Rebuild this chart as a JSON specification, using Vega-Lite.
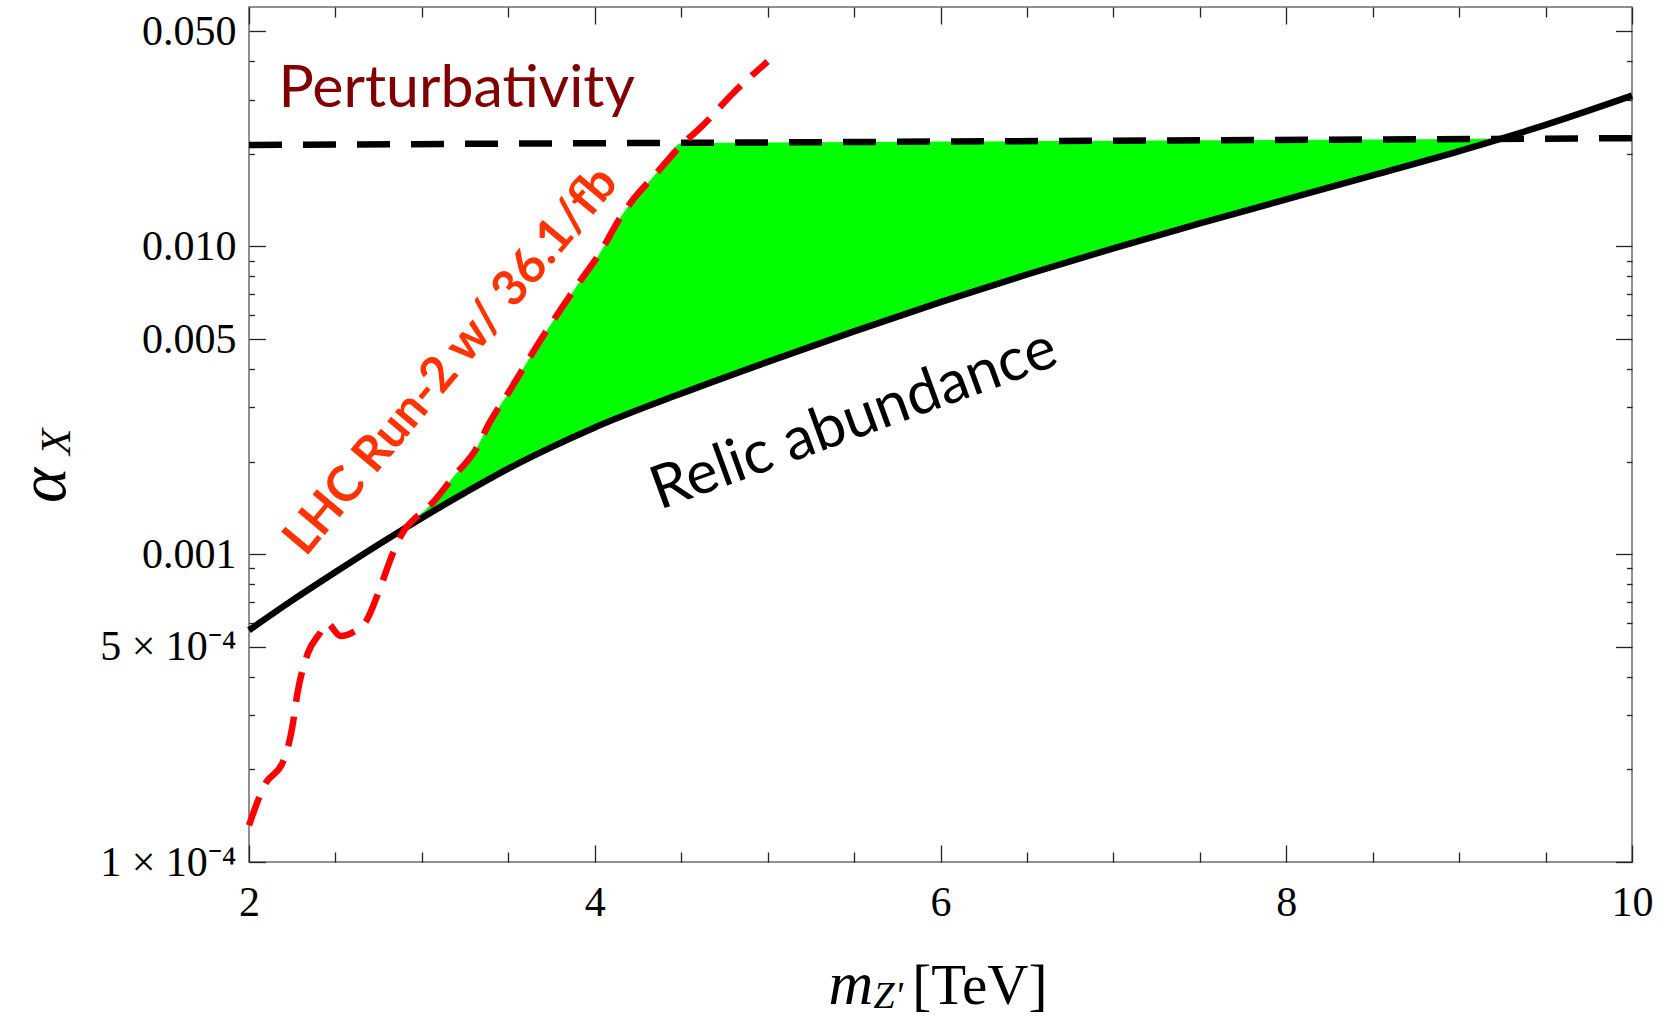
{
  "$schema": "https://vega.github.io/schema/vega-lite/v6.json",
  "width": 1383,
  "height": 855,
  "autosize": {"type": "none"},
  "padding": {"left": 249, "top": 7, "right": 37, "bottom": 155},
  "background": "white",
  "config": {
    "view": {"stroke": "#6b6b6b", "strokeWidth": 1.5},
    "axis": {"grid": false, "domain": false, "tickColor": "#222222", "tickWidth": 1.3, "labelColor": "black", "labelFont": "Liberation Serif", "labelFontSize": 42, "labelFlush": false, "labelOverlap": false, "labelBound": false}
  },
  "datasets": {
    "band": [
      {"m": 2.95, "lo": 0.001262, "hi": 0.001291},
      {"m": 3.06, "lo": 0.001372, "hi": 0.001466},
      {"m": 3.18, "lo": 0.001506, "hi": 0.001778},
      {"m": 3.32, "lo": 0.001668, "hi": 0.002228},
      {"m": 3.39, "lo": 0.001754, "hi": 0.002667},
      {"m": 3.5, "lo": 0.001897, "hi": 0.003342},
      {"m": 3.57, "lo": 0.001982, "hi": 0.003882},
      {"m": 3.64, "lo": 0.002071, "hi": 0.004508},
      {"m": 3.8, "lo": 0.002293, "hi": 0.006209},
      {"m": 3.92, "lo": 0.002464, "hi": 0.00778},
      {"m": 4.03, "lo": 0.002622, "hi": 0.009528},
      {"m": 4.15, "lo": 0.00278, "hi": 0.01247},
      {"m": 4.22, "lo": 0.002877, "hi": 0.01416},
      {"m": 4.34, "lo": 0.003056, "hi": 0.01687},
      {"m": 4.51, "lo": 0.003343, "hi": 0.02172},
      {"m": 5.0, "lo": 0.004217, "hi": 0.02179},
      {"m": 5.5, "lo": 0.005297, "hi": 0.02186},
      {"m": 6.0, "lo": 0.006592, "hi": 0.02193},
      {"m": 6.5, "lo": 0.00811, "hi": 0.022},
      {"m": 7.0, "lo": 0.009863, "hi": 0.02207},
      {"m": 7.5, "lo": 0.01189, "hi": 0.02214},
      {"m": 8.0, "lo": 0.01422, "hi": 0.02221},
      {"m": 8.5, "lo": 0.01702, "hi": 0.02227},
      {"m": 9.0, "lo": 0.02042, "hi": 0.02234},
      {"m": 9.23, "lo": 0.02234, "hi": 0.02237}
    ],
    "relic": [
      {"m": 2.0, "a": 0.0005662},
      {"m": 2.25, "a": 0.0007079},
      {"m": 2.5, "a": 0.000875},
      {"m": 2.75, "a": 0.001076},
      {"m": 3.0, "a": 0.001312},
      {"m": 3.25, "a": 0.001585},
      {"m": 3.5, "a": 0.001897},
      {"m": 3.75, "a": 0.002228},
      {"m": 4.0, "a": 0.002582},
      {"m": 4.5, "a": 0.003327},
      {"m": 5.0, "a": 0.004217},
      {"m": 5.5, "a": 0.005297},
      {"m": 6.0, "a": 0.006592},
      {"m": 6.5, "a": 0.00811},
      {"m": 7.0, "a": 0.009863},
      {"m": 7.5, "a": 0.01189},
      {"m": 8.0, "a": 0.01422},
      {"m": 8.5, "a": 0.01702},
      {"m": 9.0, "a": 0.02042},
      {"m": 9.5, "a": 0.02483},
      {"m": 10.0, "a": 0.0309}
    ],
    "pert": [
      {"m": 2.0, "a": 0.02138},
      {"m": 10.0, "a": 0.02248}
    ],
    "lhc": [
      {"m": 2.0, "a": 0.0001315},
      {"m": 2.09, "a": 0.0001778},
      {"m": 2.2, "a": 0.0002138},
      {"m": 2.25, "a": 0.0002735},
      {"m": 2.28, "a": 0.0003532},
      {"m": 2.34, "a": 0.0004764},
      {"m": 2.41, "a": 0.0005534},
      {"m": 2.45, "a": 0.000597},
      {"m": 2.53, "a": 0.000542},
      {"m": 2.6, "a": 0.0005572},
      {"m": 2.68, "a": 0.0006095},
      {"m": 2.76, "a": 0.0007816},
      {"m": 2.83, "a": 0.001},
      {"m": 2.9, "a": 0.001202},
      {"m": 2.95, "a": 0.001291},
      {"m": 3.06, "a": 0.001466},
      {"m": 3.18, "a": 0.001778},
      {"m": 3.32, "a": 0.002228},
      {"m": 3.39, "a": 0.002667},
      {"m": 3.5, "a": 0.003342},
      {"m": 3.57, "a": 0.003882},
      {"m": 3.64, "a": 0.004508},
      {"m": 3.8, "a": 0.006209},
      {"m": 3.92, "a": 0.00778},
      {"m": 4.03, "a": 0.009528},
      {"m": 4.15, "a": 0.01247},
      {"m": 4.22, "a": 0.01416},
      {"m": 4.34, "a": 0.01687},
      {"m": 4.51, "a": 0.0216},
      {"m": 4.61, "a": 0.02427},
      {"m": 4.8, "a": 0.03148},
      {"m": 5.0, "a": 0.0399}
    ]
  },
  "layer": [
    {
      "data": {"name": "band"},
      "mark": {"type": "area", "color": "#00ff00", "opacity": 1, "interpolate": "monotone"},
      "encoding": {
        "x": {"field": "m", "type": "quantitative", "scale": {"domain": [2, 10], "nice": false, "zero": false},
          "axis": {"orient": "bottom", "values": [2, 4, 6, 8, 10], "tickSize": 17, "offset": -17, "labelPadding": 20, "title": null}},
        "y": {"field": "lo", "type": "quantitative", "scale": {"type": "log", "domain": [0.0001, 0.06], "nice": false},
          "axis": {"orient": "left", "values": [0.0001, 0.0005, 0.001, 0.005, 0.01, 0.05], "tickSize": 16.5, "offset": -16.5, "labelPadding": 13, "title": null,
            "labelExpr": "datum.value < 0.00015 ? '1 × 10⁻⁴' : datum.value < 0.0006 ? '5 × 10⁻⁴' : format(datum.value, '.3f')"}},
        "y2": {"field": "hi"}
      }
    },
    {
      "data": {"name": "pert"},
      "mark": {"type": "line", "color": "black", "strokeWidth": 6.5, "strokeDash": [33, 21]},
      "encoding": {
        "x": {"field": "m", "type": "quantitative", "scale": {"domain": [2, 10], "nice": false, "zero": false},
          "axis": {"orient": "bottom", "values": [2.5, 3, 3.5, 4.5, 5, 5.5, 6.5, 7, 7.5, 8.5, 9, 9.5], "tickSize": 10, "offset": -10, "labels": false, "title": null}},
        "y": {"field": "a", "type": "quantitative", "scale": {"type": "log", "domain": [0.0001, 0.06], "nice": false},
          "axis": {"orient": "left", "values": [0.0002, 0.0003, 0.0004, 0.0006, 0.0007, 0.0008, 0.0009, 0.002, 0.003, 0.004, 0.006, 0.007, 0.008, 0.009, 0.02, 0.03, 0.04], "tickSize": 5.5, "offset": -5.5, "labels": false, "title": null}}
      }
    },
    {
      "data": {"name": "relic"},
      "mark": {"type": "line", "color": "black", "strokeWidth": 6.5, "interpolate": "monotone"},
      "encoding": {
        "x": {"field": "m", "type": "quantitative", "scale": {"domain": [2, 10], "nice": false, "zero": false},
          "axis": {"orient": "top", "values": [2, 4, 6, 8, 10], "tickSize": 17, "offset": -17, "labels": false, "title": null}},
        "y": {"field": "a", "type": "quantitative", "scale": {"type": "log", "domain": [0.0001, 0.06], "nice": false},
          "axis": {"orient": "right", "values": [0.0001, 0.0005, 0.001, 0.005, 0.01, 0.05], "tickSize": 16.5, "offset": -16.5, "labels": false, "title": null}}
      }
    },
    {
      "data": {"name": "lhc"},
      "mark": {"type": "line", "color": "#ff0000", "strokeWidth": 6.5, "strokeDash": [30, 15], "interpolate": "monotone"},
      "encoding": {
        "x": {"field": "m", "type": "quantitative", "scale": {"domain": [2, 10], "nice": false, "zero": false},
          "axis": {"orient": "top", "values": [2.5, 3, 3.5, 4.5, 5, 5.5, 6.5, 7, 7.5, 8.5, 9, 9.5], "tickSize": 10, "offset": -10, "labels": false, "title": null}},
        "y": {"field": "a", "type": "quantitative", "scale": {"type": "log", "domain": [0.0001, 0.06], "nice": false},
          "axis": {"orient": "right", "values": [0.0002, 0.0003, 0.0004, 0.0006, 0.0007, 0.0008, 0.0009, 0.002, 0.003, 0.004, 0.006, 0.007, 0.008, 0.009, 0.02, 0.03, 0.04], "tickSize": 5.5, "offset": -5.5, "labels": false, "title": null}}
      }
    },
    {
      "data": {"values": [{"m": 2.17, "a": 0.02849, "label": "Perturbativity"}]},
      "mark": {"type": "text", "font": "Lato", "fontSize": 59, "color": "#800000", "align": "left", "baseline": "alphabetic"},
      "encoding": {
        "x": {"field": "m", "type": "quantitative", "scale": {"domain": [2, 10], "nice": false, "zero": false}, "axis": null},
        "y": {"field": "a", "type": "quantitative", "scale": {"type": "log", "domain": [0.0001, 0.06], "nice": false}, "axis": null},
        "text": {"field": "label"}
      }
    },
    {
      "data": {"values": [{"m": 3.17, "a": 0.00425, "label": "LHC Run-2 w/ 36.1/fb"}]},
      "mark": {"type": "text", "font": "Lato", "fontWeight": "bold", "fontSize": 49, "color": "#ff3300", "align": "center", "baseline": "middle", "angle": 310},
      "encoding": {
        "x": {"field": "m", "type": "quantitative", "scale": {"domain": [2, 10], "nice": false, "zero": false}, "axis": null},
        "y": {"field": "a", "type": "quantitative", "scale": {"type": "log", "domain": [0.0001, 0.06], "nice": false}, "axis": null},
        "text": {"field": "label"}
      }
    },
    {
      "data": {"values": [{"m": 5.5, "a": 0.002728, "label": "Relic abundance"}]},
      "mark": {"type": "text", "font": "Lato", "fontSize": 60, "color": "black", "align": "center", "baseline": "middle", "angle": 340},
      "encoding": {
        "x": {"field": "m", "type": "quantitative", "scale": {"domain": [2, 10], "nice": false, "zero": false}, "axis": null},
        "y": {"field": "a", "type": "quantitative", "scale": {"type": "log", "domain": [0.0001, 0.06], "nice": false}, "axis": null},
        "text": {"field": "label"}
      }
    },
    {
      "data": {"values": [{"m": 6, "a": 0.0001, "t1": "m", "t2": "Z'", "t3": "[TeV]"}]},
      "layer": [
        {"mark": {"type": "text", "font": "Liberation Serif", "fontStyle": "italic", "fontSize": 62, "color": "black", "align": "left", "baseline": "alphabetic", "dx": -112, "dy": 142},
         "encoding": {"text": {"field": "t1"}}},
        {"mark": {"type": "text", "font": "Liberation Serif", "fontStyle": "italic", "fontSize": 38, "color": "black", "align": "left", "baseline": "alphabetic", "dx": -67, "dy": 146},
         "encoding": {"text": {"field": "t2"}}},
        {"mark": {"type": "text", "font": "Liberation Serif", "fontSize": 57, "color": "black", "align": "right", "baseline": "alphabetic", "dx": 107, "dy": 142},
         "encoding": {"text": {"field": "t3"}}}
      ],
      "encoding": {
        "x": {"field": "m", "type": "quantitative", "scale": {"domain": [2, 10], "nice": false, "zero": false}, "axis": null},
        "y": {"field": "a", "type": "quantitative", "scale": {"type": "log", "domain": [0.0001, 0.06], "nice": false}, "axis": null}
      }
    },
    {
      "data": {"values": [{"m": 2, "a": 0.00223, "t1": "α", "t2": "X"}]},
      "layer": [
        {"mark": {"type": "text", "font": "Liberation Serif", "fontStyle": "italic", "fontSize": 67, "color": "black", "align": "left", "baseline": "alphabetic", "angle": 270, "dx": -56, "dy": -184},
         "encoding": {"text": {"field": "t1"}}},
        {"mark": {"type": "text", "font": "Liberation Serif", "fontStyle": "italic", "fontSize": 43, "color": "black", "align": "left", "baseline": "alphabetic", "angle": 270, "dx": -8, "dy": -179},
         "encoding": {"text": {"field": "t2"}}}
      ],
      "encoding": {
        "x": {"field": "m", "type": "quantitative", "scale": {"domain": [2, 10], "nice": false, "zero": false}, "axis": null},
        "y": {"field": "a", "type": "quantitative", "scale": {"type": "log", "domain": [0.0001, 0.06], "nice": false}, "axis": null}
      }
    }
  ],
  "resolve": {"axis": {"x": "independent", "y": "independent"}}
}
